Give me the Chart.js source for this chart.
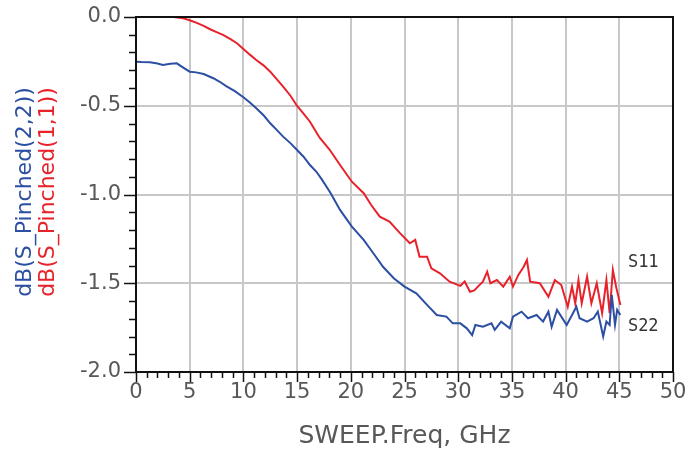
<!DOCTYPE html>
<html lang="en">
<head>
  <meta charset="UTF-8" />
  <title>S-parameters</title>
  <script src="https://cdn.jsdelivr.net/npm/chart.js"></script>
  <style>
    html, body { margin: 0; padding: 0; background: #fff; }
    #wrap { width: 688px; height: 454px; }
  </style>
</head>
<body>
<div id="wrap"><canvas id="mainChart" width="688" height="454"></canvas></div>

<script>
  // frequency in GHz, values in dB
  const s22Freq = [0, 0.5, 1.3, 2, 2.5, 3.2, 3.8, 4.4, 5.0, 5.6, 6.3, 7.2, 7.8, 8.4, 9.2, 10.0, 10.6, 11.2, 11.9, 12.5,
    13.1, 13.7, 14.4, 15.0, 15.6, 16.2, 16.8, 17.3, 18.1, 19.0, 20.1, 21.2, 22.1, 23.0, 24.0, 25.0, 26.1, 27.1, 28.0,
    28.9, 29.5, 30.2, 30.8, 31.3, 31.6, 32.3, 33.1, 33.4, 34.0, 34.8, 35.1, 35.9, 36.5, 37.3, 37.9, 38.4, 38.7, 39.2,
    40.1, 40.6, 41.0, 41.3, 42.0, 42.6, 43.0, 43.5, 43.8, 44.1, 44.3, 44.6, 44.8, 45.1];
  const s22 = [-0.252, -0.254, -0.255, -0.262, -0.270, -0.263, -0.261, -0.285, -0.308, -0.312, -0.321, -0.345, -0.365,
    -0.389, -0.418, -0.452, -0.482, -0.514, -0.555, -0.599, -0.636, -0.674, -0.712, -0.749, -0.787, -0.834, -0.872,
    -0.915, -0.99, -1.087, -1.181, -1.256, -1.331, -1.407, -1.472, -1.519, -1.557, -1.622, -1.679, -1.688, -1.726,
    -1.726, -1.754, -1.792, -1.735, -1.745, -1.726, -1.763, -1.716, -1.754, -1.688, -1.66, -1.697, -1.679, -1.716,
    -1.66, -1.745, -1.65, -1.735, -1.679, -1.632, -1.697, -1.716, -1.697, -1.66, -1.80, -1.716, -1.735, -1.566,
    -1.735, -1.65, -1.679];

  const s11Freq = [2.0, 2.5, 3.5, 4.4, 5.0, 5.6, 6.3, 6.9, 7.5, 8.1, 8.8, 9.4, 10.0, 10.6, 11.2, 11.9, 12.5, 13.1, 13.7,
    14.4, 15.0, 15.6, 16.2, 17.1, 18.0, 19.0, 20.1, 21.2, 21.9, 22.7, 23.6, 24.6, 25.5, 26.0, 26.4, 27.1, 27.5, 28.3,
    29.2, 30.2, 30.6, 31.1, 31.5, 31.9, 32.3, 32.7, 33.0, 33.6, 34.2, 34.8, 35.1, 35.6, 36.1, 36.4, 36.7, 37.6, 38.4,
    39.0, 39.6, 40.2, 40.6, 40.9, 41.2, 41.5, 42.0, 42.4, 42.9, 43.4, 43.8, 44.1, 44.4, 44.7, 45.1];
  const s11 = [0.01, 0.0, 0.0, -0.007, -0.018, -0.032, -0.05, -0.069, -0.085, -0.101, -0.125, -0.148, -0.18, -0.212,
    -0.242, -0.274, -0.308, -0.35, -0.392, -0.445, -0.501, -0.545, -0.59, -0.68, -0.745, -0.834, -0.928, -0.993,
    -1.059, -1.125, -1.153, -1.219, -1.275, -1.256, -1.35, -1.35, -1.416, -1.444, -1.491, -1.515, -1.49, -1.548,
    -1.54, -1.515, -1.491, -1.435, -1.50, -1.482, -1.519, -1.463, -1.519, -1.453, -1.407, -1.369, -1.491, -1.50,
    -1.576, -1.482, -1.51, -1.632, -1.519, -1.613, -1.482, -1.613, -1.463, -1.613, -1.50, -1.669, -1.482, -1.669,
    -1.425, -1.519, -1.622];

  const xTicks = [0, 5, 10, 15, 20, 25, 30, 35, 40, 45, 50];
  const yTicks = [0.0, -0.5, -1.0, -1.5, -2.0];

  const toPoints = (xs, ys) => xs.map((x, i) => ({ x: x, y: ys[i] }));

  const BLUE = "#2c4fa3";
  const RED = "#e8222b";
  const TXT = "#585858";
  const FONT = "'DejaVu Sans', sans-serif";

  // frame, tick marks, axis titles and trace labels
  const decor = {
    id: "decor",
    afterDraw(chart) {
      const ctx = chart.ctx;
      const a = chart.chartArea;
      const xs = chart.scales.x, ys = chart.scales.y;
      ctx.save();
      ctx.strokeStyle = "#111";
      ctx.lineWidth = 2;
      ctx.strokeRect(a.left, a.top, a.right - a.left, a.bottom - a.top);

      ctx.lineWidth = 1.5;
      ctx.beginPath();
      for (let i = 0; i <= 50; i++) {
        const px = Math.round(xs.getPixelForValue(i)) + 0.5;
        const len = i % 5 === 0 ? 10 : 6;
        ctx.moveTo(px, a.bottom);
        ctx.lineTo(px, a.bottom + len);
      }
      for (let k = 0; k <= 20; k++) {
        const py = Math.round(ys.getPixelForValue(-k / 10)) + 0.5;
        const len = k % 5 === 0 ? 12 : 7;
        ctx.moveTo(a.left, py);
        ctx.lineTo(a.left - len, py);
      }
      ctx.stroke();

      // y axis titles, two colours
      ctx.font = "22px " + FONT;
      ctx.textAlign = "center";
      ctx.textBaseline = "middle";
      const cy = 192;
      [["dB(S_Pinched(2,2))", BLUE, 25], ["dB(S_Pinched(1,1))", RED, 48]].forEach(t => {
        ctx.save();
        ctx.translate(t[2], cy);
        ctx.rotate(-Math.PI / 2);
        ctx.fillStyle = t[1];
        ctx.fillText(t[0], 0, 0);
        ctx.restore();
      });

      // trace labels
      ctx.font = "17px 'DejaVu Sans Mono', monospace";
      ctx.fillStyle = "#333";
      ctx.textAlign = "left";
      ctx.fillText("S11", xs.getPixelForValue(45.8), ys.getPixelForValue(-1.385));
      ctx.fillText("S22", xs.getPixelForValue(45.8), ys.getPixelForValue(-1.745));
      ctx.restore();
    }
  };

  new Chart(document.getElementById("mainChart"), {
    type: "line",
    data: {
      datasets: [
        { label: "S22", data: toPoints(s22Freq, s22), borderColor: BLUE, borderWidth: 2, pointRadius: 0, tension: 0 },
        { label: "S11", data: toPoints(s11Freq, s11), borderColor: RED, borderWidth: 2, pointRadius: 0, tension: 0 }
      ]
    },
    options: {
      responsive: false,
      animation: false,
      layout: { padding: { top: 17, right: 15, bottom: 0, left: 0 } },
      plugins: { legend: { display: false }, tooltip: { enabled: false } },
      scales: {
        x: {
          type: "linear",
          min: 0,
          max: 50,
          afterFit: s => { s.height = 82; s.paddingLeft = 0; s.paddingRight = 0; },
          afterBuildTicks: s => { s.ticks = xTicks.map(v => ({ value: v })); },
          ticks: { color: TXT, font: { family: FONT, size: 21 }, padding: 8, maxRotation: 0, autoSkip: false },
          grid: { color: "#c8c8c8", lineWidth: 2, drawTicks: false },
          border: { display: false },
          title: { display: true, text: "SWEEP.Freq, GHz", color: TXT, font: { family: FONT, size: 25 }, padding: { bottom: 3 } }
        },
        y: {
          min: -2,
          max: 0,
          afterFit: s => { s.width = 136; s.paddingTop = 0; s.paddingBottom = 0; },
          afterBuildTicks: s => { s.ticks = yTicks.map(v => ({ value: v })); },
          ticks: { color: TXT, font: { family: FONT, size: 21 }, padding: 15, callback: v => v.toFixed(1) },
          grid: { color: "#c8c8c8", lineWidth: 2, drawTicks: false },
          border: { display: false }
        }
      }
    },
    plugins: [decor]
  });
</script>
</body>
</html>
